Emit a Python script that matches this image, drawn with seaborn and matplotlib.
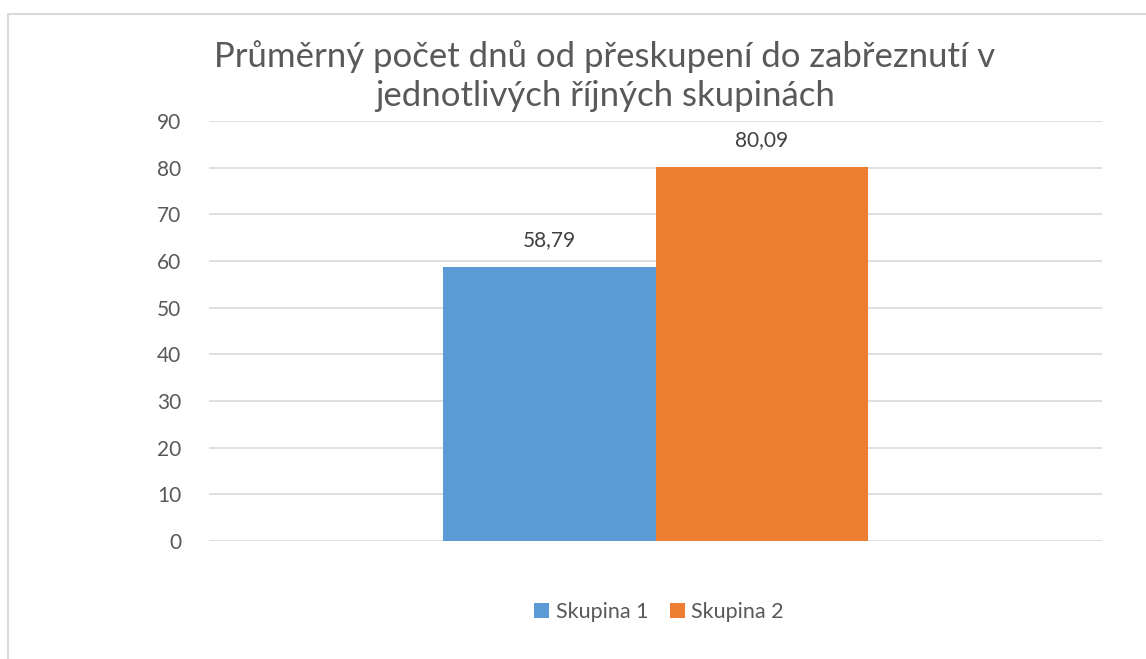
import matplotlib
matplotlib.use("Agg")
import matplotlib.pyplot as plt
import seaborn as sns
import pandas as pd
from matplotlib.patches import Rectangle, Patch

# data
groups = ["Skupina 1", "Skupina 2"]
values = [58.79, 80.09]
colors = ["#5B9BD5", "#ED7D31"]
title = "Průměrný počet dnů od přeskupení do zabřeznutí v\njednotlivých říjných skupinách"
yticks = list(range(0, 100, 10))

df = pd.DataFrame({"kat": [""] * len(groups), "skupina": groups, "hodnota": values})

sns.set_theme(style="white")
plt.rcParams["font.family"] = ["Lato", "DejaVu Sans"]

W, H = 1146, 659
fig = plt.figure(figsize=(W / 100, H / 100), dpi=100)
ax = fig.add_axes([209 / W, 1 - 541 / H, (1102 - 209) / W, (541 - 121) / H])

sns.barplot(data=df, x="kat", y="hodnota", hue="skupina", palette=colors,
            width=0.477, saturation=1, linewidth=0, ax=ax, legend=False)

for cont in ax.containers:
    labs = [f"{v:.2f}".replace(".", ",") for v in cont.datavalues]
    ax.bar_label(cont, labels=labs, padding=12, fontsize=15, color="#404040")

ax.set_xlim(-0.5, 0.5)
ax.set_ylim(0, 90)
ax.set_yticks(yticks)
ax.set_xticks([])
ax.set_xlabel("")
ax.set_ylabel("")
ax.yaxis.grid(True, color="#D9D9D9", linewidth=1.2)
ax.set_axisbelow(True)
for s in ax.spines.values():
    s.set_visible(False)
ax.tick_params(axis="y", length=0, pad=20, labelsize=15, labelcolor="#595959")

fig.text(605 / W, 1 - 76 / H, title, ha="center", va="center", fontsize=25,
         color="#595959", linespacing=1.3)

handles = [Patch(facecolor=c, edgecolor="none") for c in colors]
fig.legend(handles, groups, loc="center", bbox_to_anchor=(659 / W, 1 - 612 / H),
           ncol=2, frameon=False, fontsize=15.5, labelcolor="#595959",
           handlelength=0.7, handleheight=0.7, handletextpad=0.3, columnspacing=1.0)

# chart area border (cropped on right and bottom)
fig.patches.append(Rectangle((8 / W, -0.1), 1.2, 1 - 14 / H + 0.1, transform=fig.transFigure,
                             fill=False, edgecolor="#D9D9D9", linewidth=1.5))

fig.savefig("out.png", dpi=100)
